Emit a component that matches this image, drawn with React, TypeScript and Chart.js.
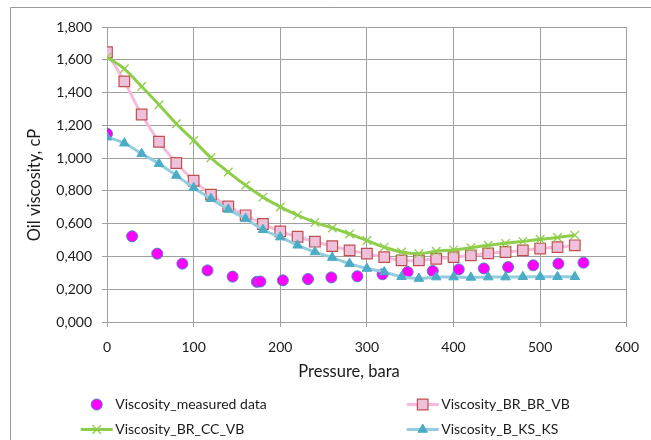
import React, { useEffect, useRef } from 'react';
import { Chart, registerables } from 'chart.js';
import { drawPoint } from 'chart.js/helpers';

Chart.register(...registerables);

// ---------- data ----------
const measuredPressure = [0, 29, 58, 87, 116, 145, 173, 177, 203, 232, 259, 289, 318, 347, 376, 406, 435, 463, 492, 521, 550];
const measuredViscosity = [1.149, 0.523, 0.417, 0.356, 0.315, 0.277, 0.245, 0.247, 0.254, 0.262, 0.272, 0.279, 0.291, 0.305, 0.311, 0.321, 0.327, 0.335, 0.346, 0.356, 0.362];

const modelPressure = [0, 20, 40, 60, 80, 100, 120, 140, 160, 180, 200, 220, 240, 260, 280, 300, 320, 340, 360, 380, 400, 420, 440, 460, 480, 500, 520, 540];
const viscBrBrVb = [1.646, 1.468, 1.266, 1.100, 0.970, 0.862, 0.777, 0.705, 0.651, 0.598, 0.553, 0.520, 0.490, 0.463, 0.437, 0.417, 0.396, 0.376, 0.376, 0.386, 0.396, 0.407, 0.419, 0.427, 0.437, 0.448, 0.457, 0.468];
const viscBrCcVb = [1.616, 1.545, 1.437, 1.326, 1.210, 1.108, 1.002, 0.915, 0.834, 0.762, 0.702, 0.652, 0.608, 0.574, 0.537, 0.497, 0.457, 0.427, 0.417, 0.432, 0.440, 0.453, 0.468, 0.480, 0.492, 0.505, 0.516, 0.530];
const viscBKsKs = [1.128, 1.091, 1.027, 0.966, 0.894, 0.819, 0.752, 0.687, 0.630, 0.563, 0.518, 0.468, 0.427, 0.393, 0.356, 0.326, 0.305, 0.276, 0.265, 0.274, 0.274, 0.272, 0.274, 0.274, 0.276, 0.276, 0.276, 0.276];

const seriesLabels = ['Viscosity_measured data', 'Viscosity_BR_BR_VB', 'Viscosity_BR_CC_VB', 'Viscosity_B_KS_KS'];
const xTitle = 'Pressure, bara';
const yTitle = 'Oil viscosity, cP';

const FONT = 'Lato';
const TEXT = '#1a1a1a';
const GRID = '#a0a0a0';

const pts = (xs: number[], ys: number[]) => xs.map((x, i) => ({ x, y: ys[i] }));

const decor = {
  id: 'decor',
  afterDraw(chart: any) {
    const ctx = chart.ctx as CanvasRenderingContext2D;
    ctx.save();
    // outer chart border
    ctx.strokeStyle = '#9a9a9a';
    ctx.lineWidth = 1;
    ctx.beginPath();
    ctx.moveTo(10.5, 440);
    ctx.lineTo(10.5, 7.5);
    ctx.lineTo(651, 7.5);
    ctx.stroke();

    // axis titles
    ctx.fillStyle = TEXT;
    ctx.font = `16.5px ${FONT}`;
    ctx.textAlign = 'center';
    ctx.textBaseline = 'middle';
    ctx.fillText(xTitle, 349, 372);
    ctx.save();
    ctx.translate(35, 185);
    ctx.rotate(-Math.PI / 2);
    ctx.fillText(yTitle, 0, 0);
    ctx.restore();

    // legend
    const cols = [96.7, 422.7];
    const rows = [404.5, 429.5];
    const slots = [[0, 0], [1, 0], [0, 1], [1, 1]];
    ctx.font = `14px ${FONT}`;
    ctx.textAlign = 'left';
    chart.data.datasets.forEach((ds: any, i: number) => {
      const [c, r] = slots[i];
      const cx = cols[c];
      const cy = rows[r];
      if (ds.showLine !== false) {
        ctx.strokeStyle = ds.borderColor;
        ctx.lineWidth = ds.borderWidth;
        ctx.beginPath();
        ctx.moveTo(cx - 16, cy);
        ctx.lineTo(cx + 16, cy);
        ctx.stroke();
      }
      ctx.fillStyle = ds.pointBackgroundColor;
      ctx.strokeStyle = ds.pointBorderColor;
      ctx.lineWidth = ds.pointBorderWidth;
      drawPoint(ctx, { pointStyle: ds.pointStyle, rotation: 0, radius: ds.pointRadius, borderWidth: ds.pointBorderWidth }, cx, cy);
      ctx.fillStyle = TEXT;
      ctx.fillText(ds.label, cx + 18.5, cy);
    });
    ctx.restore();
  },
};

export default function App() {
  const ref = useRef<HTMLCanvasElement | null>(null);
  useEffect(() => {
    if (!ref.current) return;
    const chart = new Chart(ref.current, {
      type: 'scatter',
      data: {
        datasets: [
          {
            label: seriesLabels[0],
            data: pts(measuredPressure, measuredViscosity),
            showLine: false,
            pointStyle: 'circle',
            pointRadius: 5.5,
            pointBackgroundColor: '#ff00ff',
            pointBorderColor: '#4f81bd',
            pointBorderWidth: 1,
            borderColor: '#4f81bd',
            borderWidth: 1,
            order: 3,
          },
          {
            label: seriesLabels[1],
            data: pts(modelPressure, viscBrBrVb),
            showLine: true,
            tension: 0.4,
            borderColor: '#f4bcdc',
            borderWidth: 3,
            pointStyle: 'rect',
            pointRadius: 7.5,
            pointBackgroundColor: '#efc0dc',
            pointBorderColor: '#c0504d',
            pointBorderWidth: 1.2,
            order: 2,
          },
          {
            label: seriesLabels[2],
            data: pts(modelPressure, viscBrCcVb),
            showLine: true,
            tension: 0.4,
            borderColor: '#8fce4a',
            borderWidth: 3,
            pointStyle: 'crossRot',
            pointRadius: 6,
            pointBackgroundColor: '#8fce4a',
            pointBorderColor: '#8fce4a',
            pointBorderWidth: 1.3,
            order: 1,
          },
          {
            label: seriesLabels[3],
            data: pts(modelPressure, viscBKsKs),
            showLine: true,
            tension: 0.4,
            borderColor: '#93cddd',
            borderWidth: 3,
            pointStyle: 'triangle',
            pointRadius: 5.5,
            pointBackgroundColor: '#4bacc6',
            pointBorderColor: '#4bacc6',
            pointBorderWidth: 1,
            order: 0,
          },
        ],
      },
      options: {
        animation: false,
        responsive: false,
        devicePixelRatio: 1,
        layout: { padding: { left: 0, right: 24, top: 27, bottom: 0 } },
        plugins: { legend: { display: false }, tooltip: { enabled: false }, title: { display: false } },
        scales: {
          x: {
            type: 'linear',
            min: 0,
            max: 600,
            ticks: { stepSize: 100, padding: 12, color: TEXT, font: { family: FONT, size: 14 }, maxRotation: 0 },
            grid: { color: GRID, lineWidth: 1, tickLength: 5, drawTicks: true },
            border: { color: GRID, width: 1 },
            afterFit: (s: any) => { s.height = 118; },
          },
          y: {
            type: 'linear',
            min: 0,
            max: 1.8,
            ticks: {
              stepSize: 0.2,
              padding: 10,
              color: TEXT,
              font: { family: FONT, size: 14 },
              callback: (v: any) => Number(v).toFixed(3).replace('.', ','),
            },
            grid: { color: GRID, lineWidth: 1, tickLength: 5, drawTicks: true },
            border: { color: GRID, width: 1 },
            afterFit: (s: any) => { s.width = 107; },
          },
        },
      },
      plugins: [decor],
    } as any);
    return () => chart.destroy();
  }, []);
  return (
    <div style={{ position: 'absolute', left: 0, top: 0, width: 651, height: 440, background: '#fff' }}>
      <canvas ref={ref} width={651} height={440} style={{ display: 'block' }} />
    </div>
  );
}
